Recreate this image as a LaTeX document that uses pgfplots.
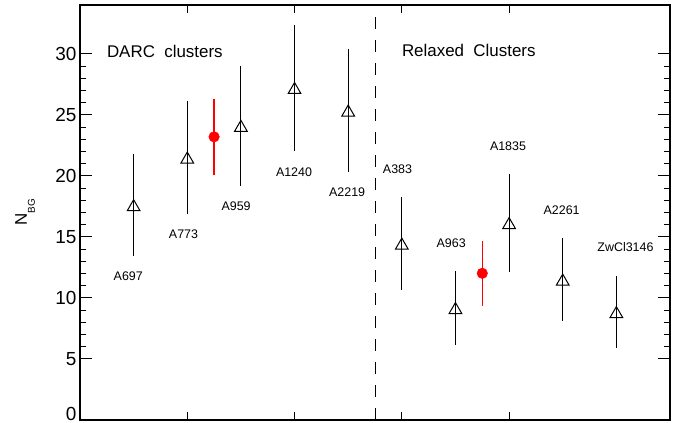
\documentclass[border=0pt]{standalone}
\usepackage{pgfplots}
\usepackage{pgfplotstable}
\pgfplotsset{compat=1.18}
\usepackage{fontspec}
\setmainfont{Liberation Sans}

% cluster index, N_BG, 1-sigma error
\pgfplotstableread{
x    y      e
1    17.6   4.2
2    21.5   4.6
3    24.1   4.9
4    27.2   5.2
5    25.35  5.05
6    14.45  3.8
7    9.17   3.0
8    16.13  4.03
9    11.5   3.39
10   8.84   2.97
}\clusters

% sample means
\pgfplotstableread{
x    y      e
2.5  23.2   3.1
7.5  12.02  2.65
}\means

\begin{document}
\begin{tikzpicture}
\begin{axis}[
  scale only axis,
  width=590bp, height=415bp,
  xmin=0, xmax=11, ymin=0, ymax=34,
  xtick={2,4,6,8}, xticklabels={},
  ytick={5,10,...,30}, minor y tick num=4,
  extra y ticks={0},
  extra y tick style={yticklabel style={yshift=6bp}},
  tick align=inside,
  major tick length=12bp, minor tick length=6bp,
  xtick style={/pgfplots/major tick length=8bp},
  tick style={line width=1bp, black},
  axis line style={line width=1.2bp},
  /pgf/number format/assume math mode=true,
  yticklabel style={font=\fontsize{19}{19}\selectfont},
  ylabel={\fontsize{17}{17}\selectfont N\raisebox{-8bp}{\fontsize{10}{10}\selectfont BG}},
  ylabel style={at={(axis description cs:-0.093,0.5)}, anchor=center},
  clip=false,
]
% separation between the two samples
\addplot[black, line width=1bp, dash pattern=on 11.5bp off 11.5bp]
  coordinates {(5.5,0) (5.5,34)};

\addplot[black, only marks, mark=triangle, mark size=7.3bp,
  mark options={solid, line width=1bp, yshift=-1.8bp},
  error bars/.cd, y dir=both, y explicit, error mark=none,
  error bar style={line width=1.1bp, black}]
  table[x=x, y=y, y error=e] {\clusters};

\addplot[red, only marks, mark=*, mark size=5.3bp,
  error bars/.cd, y dir=both, y explicit, error mark=none,
  error bar style={line width=1.3bp, red}]
  table[x=x, y=y, y error=e] {\means};

\begin{scope}[every node/.style={font=\fontsize{12.5}{13}\selectfont}]
\node at (axis cs:0.9,11.8) {A697};
\node at (axis cs:1.93,15.2) {A773};
\node at (axis cs:2.91,17.5) {A959};
\node at (axis cs:3.99,20.3) {A1240};
\node at (axis cs:4.98,18.66) {A2219};
\node at (axis cs:5.92,20.55) {A383};
\node at (axis cs:6.92,14.5) {A963};
\node at (axis cs:7.98,22.46) {A1835};
\node at (axis cs:8.98,17.2) {A2261};
\node at (axis cs:10.17,14.15) {ZwCl3146};
\end{scope}

\node[anchor=west, inner sep=0pt, font=\fontsize{17}{17}\selectfont]
  at (axis cs:0.5,30.2) {DARC\hspace{0.55em}clusters};
\node[anchor=west, inner sep=0pt, font=\fontsize{17}{17}\selectfont]
  at (axis cs:6.0,30.3) {Relaxed\hspace{0.55em}Clusters};
\end{axis}
\pgfresetboundingbox
\path (-80bp,-3bp) rectangle (607bp,420bp);
\end{tikzpicture}
\end{document}
